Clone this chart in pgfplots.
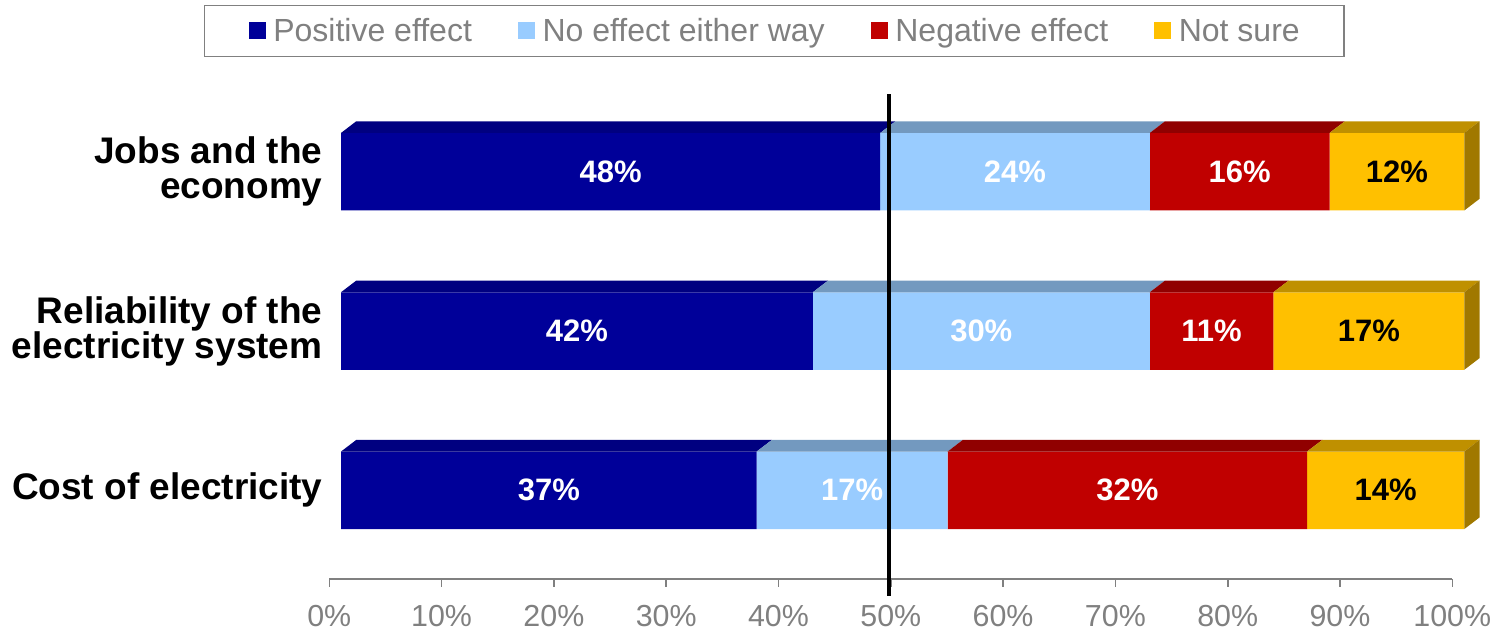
\documentclass[border=0pt]{standalone}
\usepackage{fontspec}
\setmainfont{Liberation Sans}
\usepackage{pgfplots}
\pgfplotsset{compat=1.18}

% bar colours: front face / top face / right side
\definecolor{posfront}{HTML}{000099}
\definecolor{postop}{HTML}{000080}
\definecolor{nonefront}{HTML}{99CCFF}
\definecolor{nonetop}{HTML}{7399BF}
\definecolor{negfront}{HTML}{C00000}
\definecolor{negtop}{HTML}{900000}
\definecolor{unsfront}{HTML}{FFC000}
\definecolor{unstop}{HTML}{BF9000}
\definecolor{unsside}{HTML}{A07800}
\definecolor{axisgray}{HTML}{808080}

% common frame of the two bar layers (front faces, and the 3-D top/side faces)
\pgfplotsset{
  barframe/.style={
    scale only axis, width=1123.3pt, height=509.76pt,
    xmin=0, xmax=100, ymin=-0.6, ymax=2.6, enlargelimits=false,
    at={(341pt,45.1pt)}, anchor=south west, clip=false,
  },
}

\begin{document}
\begin{tikzpicture}
\useasboundingbox (0pt,0pt) rectangle (1501pt,631pt);

% ---- front faces of the stacked bars, category labels and legend
\begin{axis}[barframe,
  xbar stacked, bar width=77.5pt,
  hide x axis,
  axis y line*=left, y axis line style={draw=none},
  ytick={0,1,2}, ytick style={draw=none}, major tick length=0pt,
  yticklabels={Cost of electricity,{Reliability of the\\electricity system},{Jobs and the\\economy}},
  yticklabel style={align=right, font=\fontsize{37}{35}\selectfont\bfseries,
    inner xsep=0pt, xshift=-18.3pt},
  legend columns=4,
  legend style={at={(-0.1220,1.1401)}, anchor=north west,
    draw=axisgray, line width=1.5pt,
    font=\fontsize{32}{36}\selectfont, text=axisgray,
    inner xsep=44pt, inner ysep=10pt,
    nodes={inner xsep=0pt, inner ysep=0pt, text height=26pt, text depth=5pt},
    /tikz/every even column/.append style={column sep=46pt}},
  every axis plot post/.append style={
    legend image code/.code={\fill[##1] (0pt,-8.5pt) rectangle (17pt,8.5pt);
      \path (24.6pt,0pt);}},
]
\addplot[fill=posfront,  draw=none] coordinates {(48,2) (42,1) (37,0)};
\addplot[fill=nonefront, draw=none] coordinates {(24,2) (30,1) (17,0)};
\addplot[fill=negfront,  draw=none] coordinates {(16,2) (11,1) (32,0)};
\addplot[fill=unsfront,  draw=none] coordinates {(12,2) (17,1) (14,0)};
\legend{Positive effect, No effect either way, Negative effect, Not sure}
\end{axis}

% ---- 3-D top and side faces, value labels
\begin{axis}[barframe, hide axis,
  /pgf/number format/assume math mode=true]
% Jobs and the economy: 48 / 24 / 16 / 12
\addplot[fill=postop,  draw=none] coordinates {(0,2.2433) (48,2.2433) (49.362,2.3167) (1.362,2.3167)} -- cycle;
\addplot[fill=nonetop, draw=none] coordinates {(48,2.2433) (72,2.2433) (73.362,2.3167) (49.362,2.3167)} -- cycle;
\addplot[fill=negtop,  draw=none] coordinates {(72,2.2433) (88,2.2433) (89.362,2.3167) (73.362,2.3167)} -- cycle;
\addplot[fill=unstop,  draw=none] coordinates {(88,2.2433) (100,2.2433) (101.362,2.3167) (89.362,2.3167)} -- cycle;
\addplot[fill=unsside, draw=none] coordinates {(100,1.7567) (100,2.2433) (101.362,2.3167) (101.362,1.8301)} -- cycle;
% Reliability of the electricity system: 42 / 30 / 11 / 17
\addplot[fill=postop,  draw=none] coordinates {(0,1.2433) (42,1.2433) (43.362,1.3167) (1.362,1.3167)} -- cycle;
\addplot[fill=nonetop, draw=none] coordinates {(42,1.2433) (72,1.2433) (73.362,1.3167) (43.362,1.3167)} -- cycle;
\addplot[fill=negtop,  draw=none] coordinates {(72,1.2433) (83,1.2433) (84.362,1.3167) (73.362,1.3167)} -- cycle;
\addplot[fill=unstop,  draw=none] coordinates {(83,1.2433) (100,1.2433) (101.362,1.3167) (84.362,1.3167)} -- cycle;
\addplot[fill=unsside, draw=none] coordinates {(100,0.7567) (100,1.2433) (101.362,1.3167) (101.362,0.8301)} -- cycle;
% Cost of electricity: 37 / 17 / 32 / 14
\addplot[fill=postop,  draw=none] coordinates {(0,0.2433) (37,0.2433) (38.362,0.3167) (1.362,0.3167)} -- cycle;
\addplot[fill=nonetop, draw=none] coordinates {(37,0.2433) (54,0.2433) (55.362,0.3167) (38.362,0.3167)} -- cycle;
\addplot[fill=negtop,  draw=none] coordinates {(54,0.2433) (86,0.2433) (87.362,0.3167) (55.362,0.3167)} -- cycle;
\addplot[fill=unstop,  draw=none] coordinates {(86,0.2433) (100,0.2433) (101.362,0.3167) (87.362,0.3167)} -- cycle;
\addplot[fill=unsside, draw=none] coordinates {(100,-0.2433) (100,0.2433) (101.362,0.3167) (101.362,-0.1699)} -- cycle;

% value labels at the middle of each segment
\addplot[draw=none, mark=none, point meta=explicit,
  nodes near coords={\pgfmathprintnumber{\pgfplotspointmeta}\%},
  nodes near coords style={anchor=center, text=white,
    font=\fontsize{31}{31}\selectfont\bfseries}]
  coordinates {(24,2) [48] (60,2) [24] (80,2) [16]
               (21,1) [42] (57,1) [30] (77.5,1) [11]
               (18.5,0) [37] (45.5,0) [17] (70,0) [32]};
\addplot[draw=none, mark=none, point meta=explicit,
  nodes near coords={\pgfmathprintnumber{\pgfplotspointmeta}\%},
  nodes near coords style={anchor=center, text=black,
    font=\fontsize{31}{31}\selectfont\bfseries}]
  coordinates {(94,2) [12] (91.5,1) [17] (93,0) [14]};
\end{axis}

% ---- percentage axis and the 50% reference line
\begin{axis}[scale only axis, width=1123pt, height=485pt,
  at={(329.3pt,51.7pt)}, anchor=south west,
  xmin=0, xmax=100, ymin=0, ymax=1, enlargelimits=false, clip=false,
  axis x line*=bottom, axis y line=none,
  x axis line style={axisgray, line width=1.6pt},
  xtick={0,10,...,100},
  xticklabels={0\%,10\%,20\%,30\%,40\%,50\%,60\%,70\%,80\%,90\%,100\%},
  tick align=outside, major tick length=7.5pt,
  x tick style={axisgray, line width=1.6pt},
  xticklabel style={font=\fontsize{30.4}{30}\selectfont, text=axisgray,
    inner sep=0pt, yshift=-18pt},
]
\addplot[black, line width=4pt] coordinates {(49.8,-0.0338) (49.8,1)};
\end{axis}
\end{tikzpicture}
\end{document}
